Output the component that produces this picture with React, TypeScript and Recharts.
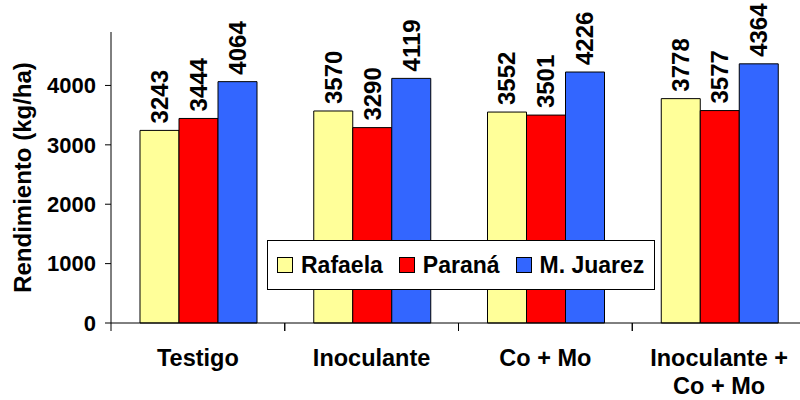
import React from 'react';
import { BarChart, Bar, XAxis, YAxis, LabelList, Legend } from 'recharts';

// --- datos ---
const categories = ['Testigo', 'Inoculante', 'Co + Mo', 'Inoculante +\nCo + Mo'];
const rafaela = [3243, 3570, 3552, 3778];
const parana = [3444, 3290, 3501, 3577];
const juarez = [4064, 4119, 4226, 4364];
const yTicks = [0, 1000, 2000, 3000, 4000];

const series = [
  { key: 'rafaela', name: 'Rafaela', color: '#FFFF99' },
  { key: 'parana', name: 'Paraná', color: '#FF0000' },
  { key: 'juarez', name: 'M. Juarez', color: '#3366FF' },
];

const data = categories.map((c, i) => ({
  name: c,
  rafaela: rafaela[i],
  parana: parana[i],
  juarez: juarez[i],
}));

const FONT = '"Liberation Sans", Arial, sans-serif';

const XTick = (props: any) => {
  const { x, y, payload } = props;
  const half = payload?.offset ?? 86.9;
  const lines = String(payload.value).split('\n');
  return (
    <g>
      <line x1={x - half} y1={y} x2={x - half} y2={y + 8} stroke="#000" />
      <line x1={x + half} y1={y} x2={x + half} y2={y + 8} stroke="#000" />
      <text
        x={x}
        y={y + 43}
        textAnchor="middle"
        fontFamily={FONT}
        fontWeight="bold"
        fontSize={23.5}
        fill="#000"
      >
        {lines.map((l, i) => (
          <tspan key={i} x={x} dy={i === 0 ? 0 : 28}>
            {l}
          </tspan>
        ))}
      </text>
    </g>
  );
};

const BarValue = (props: any) => {
  const { x, y, width, value } = props;
  const cx = x + width / 2;
  const cy = y - 7;
  return (
    <text
      x={cx}
      y={cy}
      transform={`rotate(-90, ${cx}, ${cy})`}
      textAnchor="start"
      dominantBaseline="central"
      fontFamily={FONT}
      fontWeight="bold"
      fontSize={24}
      fill="#000"
    >
      {value}
    </text>
  );
};

const LegendBox = () => (
  <div
    style={{
      boxSizing: 'border-box',
      width: 388,
      height: 50,
      border: '1px solid #000',
      background: '#fff',
      display: 'flex',
      alignItems: 'center',
      paddingLeft: 9,
      fontFamily: FONT,
      fontWeight: 'bold',
      fontSize: 23,
      color: '#000',
      whiteSpace: 'nowrap',
    }}
  >
    {series.map((s) => (
      <div
        key={s.key}
        style={{ display: 'flex', alignItems: 'center', marginRight: 16, flexShrink: 0 }}
      >
        <div
          style={{
            width: 14,
            height: 14,
            background: s.color,
            border: '1px solid #000',
            marginRight: 8,
            flexShrink: 0,
          }}
        />
        <span>{s.name}</span>
      </div>
    ))}
  </div>
);

export default function App() {
  return (
    <div
      style={{
        position: 'absolute',
        left: 0,
        top: 0,
        width: 800,
        height: 400,
        overflow: 'hidden',
        background: '#fff',
      }}
    >
      <BarChart
        width={806}
        height={400}
        data={data}
        margin={{ top: 32, right: 0, left: 0, bottom: 0 }}
        barCategoryGap={29}
        barGap={0}
      >
        <XAxis
          dataKey="name"
          height={77}
          tickLine={false}
          tickSize={0}
          tickMargin={0}
          axisLine={{ stroke: '#000' }}
          tick={<XTick />}
          interval={0}
        />
        <YAxis
          width={111}
          domain={[0, 4900]}
          ticks={yTicks}
          tickSize={6}
          tickMargin={9}
          axisLine={{ stroke: '#000' }}
          tickLine={{ stroke: '#000' }}
          tick={{ fill: '#000', fontSize: 22, fontWeight: 'bold', fontFamily: FONT }}
          label={{
            value: 'Rendimiento (kg/ha)',
            angle: -90,
            position: 'insideLeft',
            offset: 22,
            style: {
              textAnchor: 'middle',
              fontSize: 24,
              fontWeight: 'bold',
              fontFamily: FONT,
              fill: '#000',
            },
          }}
        />
        <Legend
          verticalAlign="middle"
          align="center"
          layout="horizontal"
          content={<LegendBox />}
          wrapperStyle={{ left: 267, top: 240, width: 388, height: 50 }}
        />
        {series.map((s) => (
          <Bar
            key={s.key}
            dataKey={s.key}
            name={s.name}
            fill={s.color}
            stroke="#000"
            strokeWidth={1}
            isAnimationActive={false}
          >
            <LabelList dataKey={s.key} content={<BarValue />} />
          </Bar>
        ))}
      </BarChart>
    </div>
  );
}
